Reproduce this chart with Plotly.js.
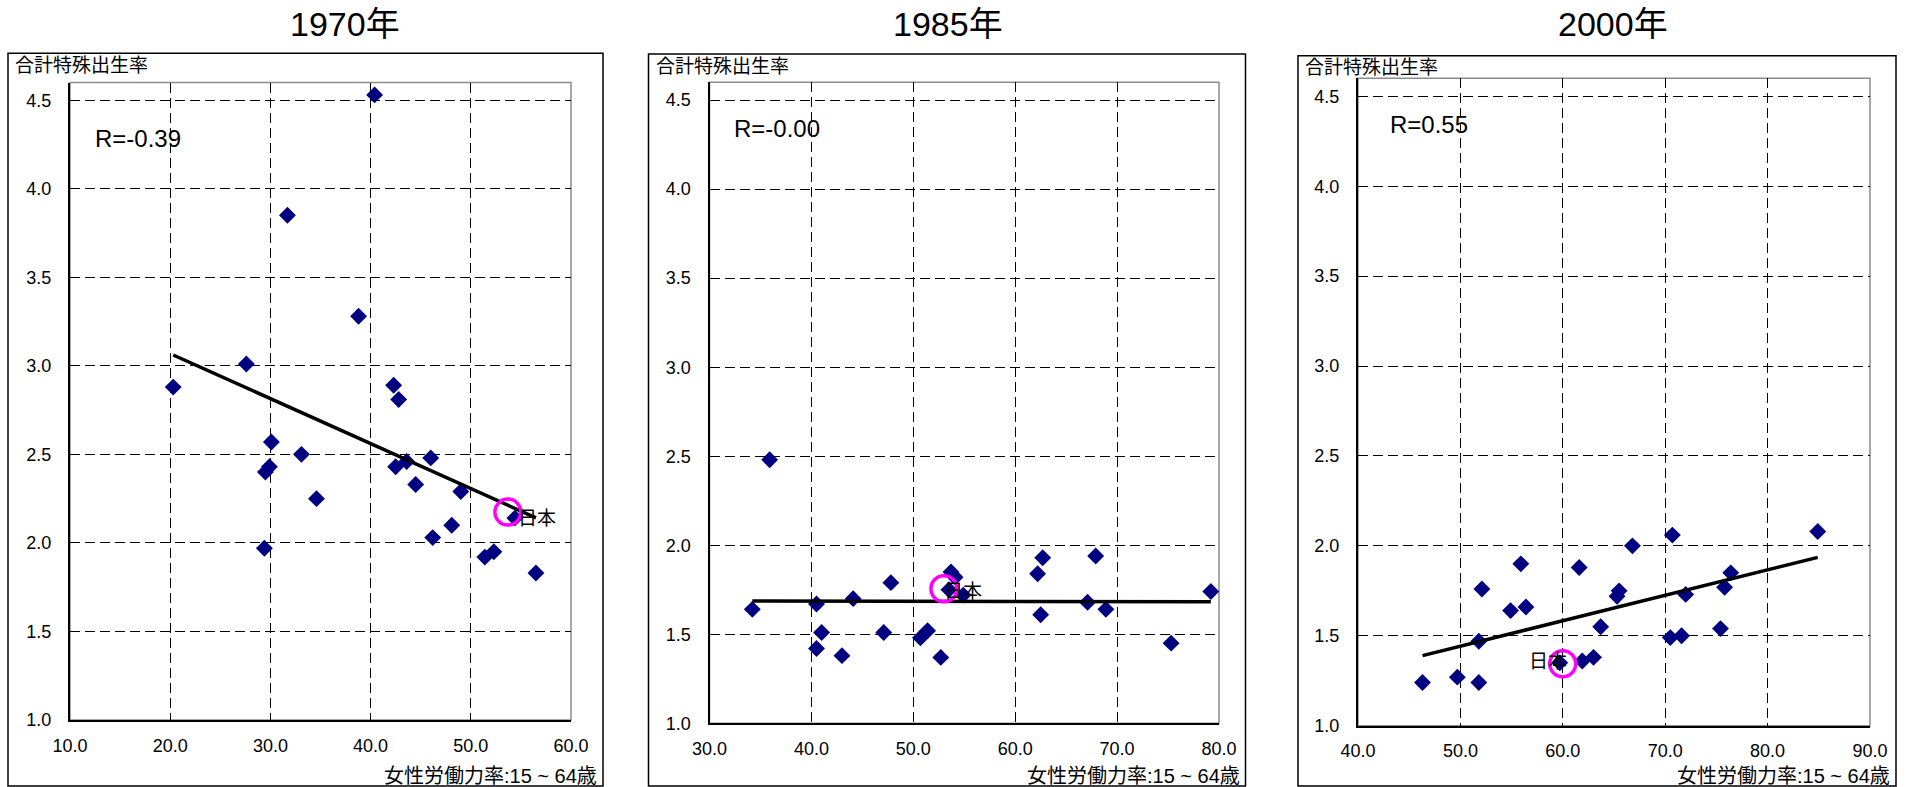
<!DOCTYPE html>
<html><head><meta charset="utf-8">
<script src="https://cdn.plot.ly/plotly-3.0.1.min.js"></script>
<style>html,body{margin:0;padding:0;background:#fff;} #chart{width:1907px;height:787px;}</style>
</head><body><div id="chart"></div>
<script>
// ---- data ----
const years = ["1970年", "1985年", "2000年"];
const rLabels = ["R=-0.39", "R=-0.00", "R=0.55"];
const yTitle = "合計特殊出生率";
const xTitle = "女性労働力率:15 ~ 64歳";
const japanLabel = "日本";

// female labour-force participation (15-64), total fertility rate
const x1970 = [40.4, 31.7, 38.8, 27.6, 20.3, 42.3, 42.8, 30.1, 33.1, 29.9, 29.5, 34.6, 29.4, 42.5, 43.6, 46.0, 44.5, 49.0, 46.2, 48.1, 51.4, 52.3, 56.5];
const y1970 = [4.53, 3.85, 3.28, 3.01, 2.88, 2.89, 2.81, 2.57, 2.50, 2.43, 2.40, 2.25, 1.97, 2.43, 2.46, 2.48, 2.33, 2.29, 2.03, 2.10, 1.92, 1.95, 1.83];
const x1985 = [35.9, 34.2, 40.5, 41.0, 40.5, 43.0, 44.1, 47.1, 47.8, 50.7, 51.4, 52.7, 53.7, 54.1, 54.9, 62.2, 62.7, 62.5, 67.1, 67.9, 68.9, 75.3, 79.2];
const y1985 = [2.48, 1.64, 1.67, 1.51, 1.42, 1.38, 1.70, 1.51, 1.79, 1.48, 1.52, 1.37, 1.85, 1.82, 1.72, 1.84, 1.93, 1.61, 1.68, 1.94, 1.64, 1.45, 1.74];
const x2000 = [46.3, 49.7, 51.8, 51.8, 52.1, 54.9, 55.9, 56.4, 61.6, 61.9, 63.0, 63.7, 65.3, 65.5, 66.8, 70.5, 70.7, 71.6, 72.0, 75.4, 75.8, 76.4, 84.9];
const y2000 = [1.24, 1.27, 1.24, 1.47, 1.76, 1.64, 1.90, 1.66, 1.88, 1.36, 1.38, 1.55, 1.72, 1.75, 2.00, 1.49, 2.06, 1.50, 1.73, 1.54, 1.77, 1.85, 2.08];
// Japan (highlighted) per year
const japanX = [54.4, 53.5, 59.7];
const japanY = [2.14, 1.75, 1.35];

const xRanges = [[10, 60], [30, 80], [40, 90]];
const yRange = [1.0, 4.6];

// ---- layout geometry (pixels) ----
const W = 1907, H = 787;
const px = v => v / W, py = v => 1 - v / H;
const FONT = "Liberation Sans, Arial, 'Noto Sans CJK JP', sans-serif";
const plots = [
  {l: 70, r: 571, t: 82.5, b: 720},
  {l: 709.5, r: 1219, t: 82.3, b: 723.3},
  {l: 1358, r: 1870, t: 78.3, b: 725.7}
];
const boxes = [
  {l: 8, r: 603, t: 53.3, b: 786},
  {l: 648.5, r: 1245.5, t: 54, b: 786},
  {l: 1298, r: 1896, t: 55.7, b: 786}
];
const titleX = [345, 948, 1613];
const rPos = [{x: 93, y: 138}, {x: 732, y: 128.5}, {x: 1388, y: 125}];
// highlight ring offset from Japan's point (pixels) and label placement
const ringOff = [{dx: -7, dy: 6}, {dx: -5, dy: 1}, {dx: 3, dy: -1}];
const labelPos = [{xa: 'left', xs: 1, ys: 0}, {xa: 'left', xs: -7, ys: -2}, {xa: 'right', xs: 9, ys: 1}];

const series = [[x1970, y1970], [x1985, y1985], [x2000, y2000]];

function fit(xs, ys) {
  const n = xs.length;
  const mx = xs.reduce((a, b) => a + b, 0) / n;
  const my = ys.reduce((a, b) => a + b, 0) / n;
  let sxy = 0, sxx = 0;
  for (let i = 0; i < n; i++) { sxy += (xs[i] - mx) * (ys[i] - my); sxx += (xs[i] - mx) ** 2; }
  const s = sxy / sxx, c = my - s * mx;
  const x0 = Math.min(...xs), x1 = Math.max(...xs);
  return {x: [x0, x1], y: [c + s * x0, c + s * x1]};
}

const traces = [];
const layout = {
  width: W, height: H, margin: {l: 0, r: 0, t: 0, b: 0},
  paper_bgcolor: '#fff', plot_bgcolor: '#fff', showlegend: false,
  font: {family: FONT, color: '#000'},
  shapes: [], annotations: []
};

series.forEach(([xs, ys], i) => {
  const suf = i === 0 ? '' : String(i + 1);
  const xa = 'x' + suf, ya = 'y' + suf;
  const allX = xs.concat([japanX[i]]), allY = ys.concat([japanY[i]]);
  traces.push({type: 'scatter', mode: 'markers', x: allX, y: allY, xaxis: xa, yaxis: ya,
    marker: {symbol: 'diamond', size: 13, color: '#000080'}, hoverinfo: 'skip'});
  const tr = fit(allX, allY);
  traces.push({type: 'scatter', mode: 'lines', x: tr.x, y: tr.y, xaxis: xa, yaxis: ya,
    line: {color: '#000', width: 3.5}, hoverinfo: 'skip'});

  const p = plots[i];
  layout['xaxis' + suf] = {
    domain: [px(p.l), px(p.r)], range: xRanges[i], anchor: ya,
    tick0: xRanges[i][0], dtick: 10, tickformat: '.1f',
    showgrid: true, gridcolor: '#000', gridwidth: 1, griddash: '10px,5px',
    showline: true, linecolor: '#000', linewidth: 2, zeroline: false, ticks: '',
    ticklabelstandoff: 8, tickfont: {size: 18, color: '#000', family: FONT}, fixedrange: true
  };
  layout['yaxis' + suf] = {
    domain: [py(p.b), py(p.t)], range: yRange, anchor: xa,
    tick0: 1, dtick: 0.5, tickformat: '.1f',
    showgrid: true, gridcolor: '#000', gridwidth: 1, griddash: '10px,5px',
    showline: true, linecolor: '#000', linewidth: 2, zeroline: false, ticks: '',
    ticklabelstandoff: 13, tickfont: {size: 18, color: '#000', family: FONT}, fixedrange: true
  };
  // plot-area frame (grey top/right)
  layout.shapes.push({type: 'rect', xref: xa + ' domain', yref: ya + ' domain', x0: 0, x1: 1, y0: 0, y1: 1,
    line: {color: '#8c8c8c', width: 1.5}, layer: 'below'});
  // outer box
  const bx = boxes[i];
  layout.shapes.push({type: 'rect', xref: 'paper', yref: 'paper', x0: px(bx.l), x1: px(bx.r), y0: py(bx.b), y1: py(bx.t),
    line: {color: '#000', width: 1.5}});
  // highlight ring around Japan
  const ro = ringOff[i], R = 13;
  layout.shapes.push({type: 'circle', xref: xa, yref: ya, xsizemode: 'pixel', ysizemode: 'pixel',
    xanchor: japanX[i], yanchor: japanY[i],
    x0: ro.dx - R, x1: ro.dx + R, y0: ro.dy - R, y1: ro.dy + R,
    line: {color: '#FF00FF', width: 3.5}, layer: 'above'});
  // title
  layout.annotations.push({xref: 'paper', yref: 'paper', x: px(titleX[i]), y: py(24), text: years[i],
    showarrow: false, xanchor: 'center', yanchor: 'middle', font: {size: 34, color: '#000', family: FONT}});
  // y title
  layout.annotations.push({xref: 'paper', yref: 'paper', x: px(bx.l + 5), y: py(bx.t + 12), text: yTitle,
    showarrow: false, xanchor: 'left', yanchor: 'middle', font: {size: 19, color: '#000', family: FONT}});
  // x title
  layout.annotations.push({xref: 'paper', yref: 'paper', x: px(bx.r - 4), y: py(776), text: xTitle,
    showarrow: false, xanchor: 'right', yanchor: 'middle', font: {size: 20, color: '#000', family: FONT}});
  // R label
  layout.annotations.push({xref: 'paper', yref: 'paper', x: px(rPos[i].x), y: py(rPos[i].y), text: rLabels[i],
    showarrow: false, xanchor: 'left', yanchor: 'middle', font: {size: 24, color: '#000', family: FONT}});
  // Japan label
  const jl = labelPos[i];
  layout.annotations.push({xref: xa, yref: ya, x: japanX[i], y: japanY[i], text: japanLabel,
    showarrow: false, xanchor: jl.xa, yanchor: 'middle', xshift: jl.xs, yshift: jl.ys,
    font: {size: 19, color: '#000', family: FONT}});
});

Plotly.newPlot('chart', traces, layout, {staticPlot: true, displayModeBar: false});
</script>
</body></html>
